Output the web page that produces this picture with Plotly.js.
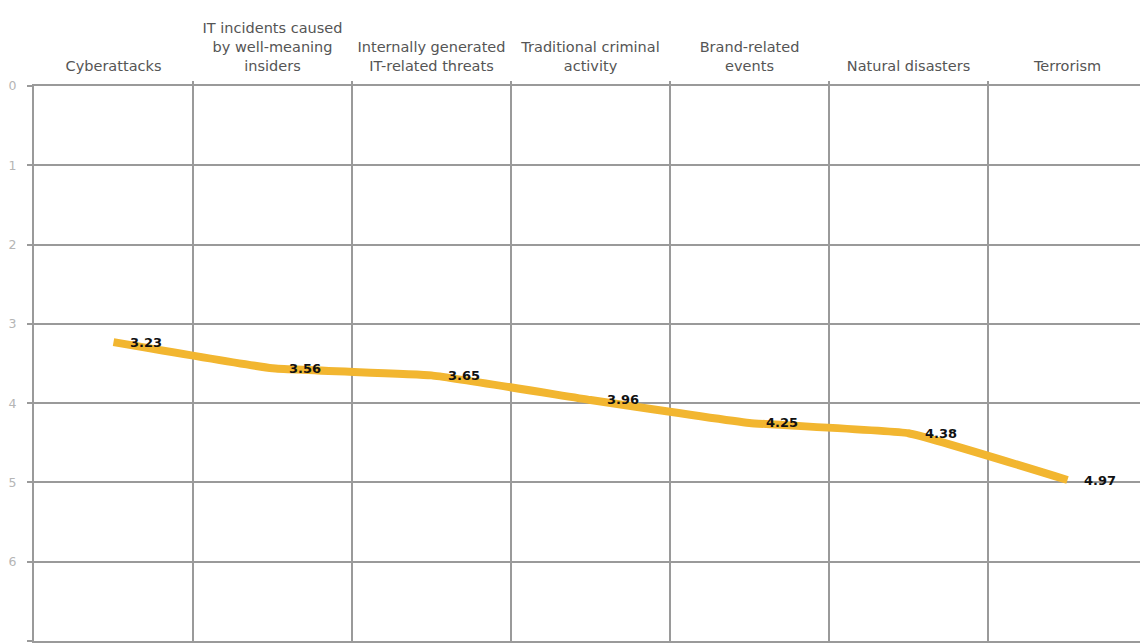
<!DOCTYPE html>
<html><head><meta charset="utf-8">
<script src="https://cdn.plot.ly/plotly-3.0.1.min.js"></script>
<style>body{margin:0;background:#fff}#c{width:1140px;height:644px}</style>
</head><body><div id="c"></div>
<script>
const categories = ["Cyberattacks","IT incidents caused<br>by well-meaning<br>insiders","Internally generated<br>IT-related threats","Traditional criminal<br>activity","Brand-related<br>events","Natural disasters","Terrorism"];
const values = [3.23,3.56,3.65,3.96,4.25,4.38,4.97];
const yTicks = [0,1,2,3,4,5,6,7];

const xIdx = categories.map((c,i)=>i);
const boundaries = categories.map((c,i)=>i+0.5);
const trace = {
  x: xIdx, y: values, type: 'scatter', mode: 'lines',
  line: {color: '#F2B630', width: 8, shape: 'spline', smoothing: 0.3},
  hoverinfo: 'none'
};
const annotations = values.map((v,i)=>({
  x: i, y: v, xref: 'x', yref: 'y', text: '<b>' + v.toFixed(2) + '</b>',
  showarrow: false, xanchor: 'left', xshift: 14, yshift: 0,
  font: {family: 'DejaVu Sans, sans-serif', size: 13, color: '#111'}
}));
const layout = {
  width: 1140, height: 644,
  margin: {l: 34, r: 0, t: 86, b: 3, pad: 0},
  paper_bgcolor: '#fff', plot_bgcolor: '#fff',
  showlegend: false,
  xaxis: {
    side: 'top', type: 'linear', range: [-0.5, 6.456],
    tickvals: xIdx, ticktext: categories,
    showgrid: false, zeroline: false,
    ticks: '', ticklen: 0, ticklabelstandoff: 7,
    showline: true, mirror: true, linecolor: '#9a9a9a', linewidth: 2,
    tickfont: {family: 'DejaVu Sans, sans-serif', size: 14.5, color: '#555'},
    fixedrange: true
  },
  xaxis2: {
    overlaying: 'x', side: 'top', range: [-0.5, 6.456],
    tickvals: boundaries, showticklabels: false,
    showgrid: true, gridcolor: '#9a9a9a', gridwidth: 2, zeroline: false,
    ticks: 'outside', ticklen: 4, tickcolor: '#9a9a9a', tickwidth: 2
  },
  yaxis: {
    range: [7, 0], tickvals: yTicks, ticktext: yTicks.map(String),
    showgrid: true, gridcolor: '#9a9a9a', gridwidth: 2, zeroline: false,
    showline: true, linecolor: '#9a9a9a', linewidth: 2,
    ticks: 'outside', ticklen: 5, tickcolor: '#9a9a9a', tickwidth: 2,
    ticklabelstandoff: 8,
    tickfont: {family: 'DejaVu Sans, sans-serif', size: 12.5, color: '#b5b5b5'},
    fixedrange: true
  },
  annotations: annotations
};
const ghost = {x: [0], y: [0], xaxis: 'x2', yaxis: 'y', mode: 'markers', marker: {opacity: 0}, hoverinfo: 'none'};
Plotly.newPlot('c', [ghost, trace], layout, {staticPlot: true});
</script></body></html>
